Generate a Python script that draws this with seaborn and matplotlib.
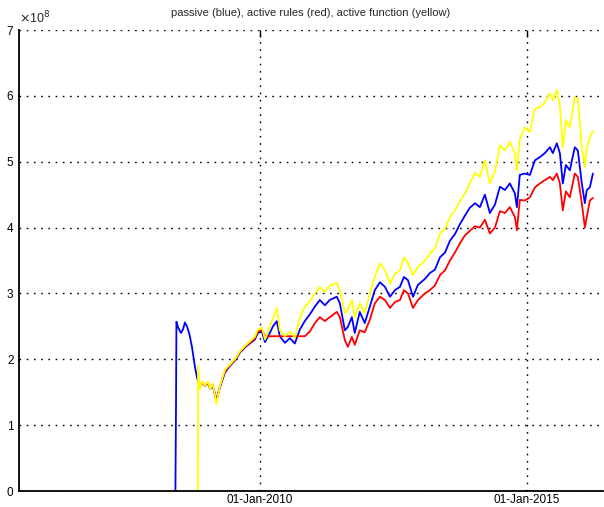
import matplotlib
matplotlib.use("Agg")
import matplotlib.pyplot as plt
import matplotlib.dates as mdates
import pandas as pd
import seaborn as sns

# sample dates
dates = [
    "2008-06-01", "2008-06-05", "2008-06-08", "2008-06-20", "2008-07-09", "2008-07-24",
    "2008-08-05", "2008-08-19", "2008-09-05", "2008-09-22", "2008-10-13", "2008-10-27",
    "2008-11-01", "2008-11-03", "2008-11-16", "2008-12-01", "2008-12-20", "2009-01-10",
    "2009-01-24", "2009-02-10", "2009-02-27", "2009-03-09", "2009-04-02", "2009-05-06",
    "2009-06-09", "2009-07-13", "2009-08-16", "2009-09-19", "2009-10-23", "2009-11-26",
    "2009-12-17",
    "2010-01-14", "2010-02-04", "2010-03-09", "2010-03-30", "2010-04-26", "2010-05-16",
    "2010-06-20", "2010-07-24", "2010-08-27", "2010-09-30", "2010-11-03", "2010-12-07",
    "2011-01-11", "2011-02-14", "2011-03-20", "2011-04-23", "2011-06-10", "2011-07-01",
    "2011-08-04", "2011-08-24", "2011-09-21", "2011-10-11", "2011-11-14", "2011-12-18",
    "2012-01-22", "2012-02-25", "2012-03-31", "2012-05-04", "2012-06-08", "2012-07-12",
    "2012-08-15", "2012-09-11", "2012-10-09", "2012-11-12", "2012-12-16",
    "2013-02-02", "2013-03-08", "2013-04-11", "2013-05-16", "2013-06-19", "2013-07-23",
    "2013-08-26", "2013-09-29", "2013-11-02", "2013-12-06",
    "2014-01-10", "2014-02-13", "2014-03-19", "2014-04-22", "2014-05-27", "2014-06-30",
    "2014-08-03", "2014-09-06", "2014-10-10", "2014-10-24", "2014-11-13", "2014-12-17",
    "2015-01-21", "2015-02-24", "2015-03-30", "2015-05-03", "2015-06-07", "2015-06-27",
    "2015-07-24", "2015-08-14", "2015-09-03", "2015-09-24", "2015-10-21", "2015-11-24",
    "2015-12-15",
    "2016-01-11", "2016-02-01", "2016-02-14", "2016-03-06", "2016-03-27",
]

# portfolio values in units of 1e8
passive = [
    0.00, 1.27, 2.57, 2.48, 2.40, 2.46, 2.56, 2.50, 2.38, 2.19, 1.88, 1.72,
    1.68, 1.66, 1.60, 1.64, 1.60, 1.64, 1.55, 1.60, 1.46, 1.38, 1.58, 1.80,
    1.90, 1.98, 2.10, 2.18, 2.24, 2.30, 2.40,
    2.42, 2.26, 2.40, 2.50, 2.58, 2.35, 2.25, 2.32, 2.24, 2.45, 2.58, 2.68,
    2.80, 2.90, 2.82, 2.90, 2.95, 2.85, 2.44, 2.49, 2.64, 2.40, 2.72, 2.55,
    2.80, 3.05, 3.17, 3.10, 2.95, 3.05, 3.10, 3.25, 3.20, 2.95, 3.13,
    3.22, 3.31, 3.36, 3.55, 3.62, 3.80, 3.90, 4.05, 4.18, 4.30,
    4.37, 4.31, 4.50, 4.22, 4.35, 4.62, 4.57, 4.67, 4.52, 4.31, 4.80, 4.82,
    4.80, 5.02, 5.07, 5.13, 5.22, 5.13, 5.28, 5.13, 4.67, 4.95, 4.87, 5.22, 5.17,
    4.67, 4.37, 4.57, 4.61, 4.82,
]

active_rules = [
    None, None, None, None, None, None, None, None, None, None, None, None,
    None, None, 1.58, 1.65, 1.60, 1.64, 1.56, 1.62, 1.47, 1.36, 1.59, 1.82,
    1.91, 1.99, 2.11, 2.19, 2.25, 2.32, 2.42,
    2.44, 2.35, 2.35, 2.35, 2.35, 2.35, 2.35, 2.35, 2.35, 2.35, 2.35, 2.42,
    2.55, 2.64, 2.58, 2.64, 2.72, 2.64, 2.29, 2.19, 2.34, 2.22, 2.44, 2.41,
    2.60, 2.85, 2.95, 2.90, 2.78, 2.87, 2.90, 3.05, 3.00, 2.78, 2.90,
    3.00, 3.05, 3.12, 3.28, 3.35, 3.50, 3.62, 3.76, 3.88, 3.95,
    4.02, 4.00, 4.12, 3.91, 4.00, 4.25, 4.22, 4.31, 4.16, 3.96, 4.42, 4.41,
    4.46, 4.61, 4.67, 4.72, 4.77, 4.72, 4.82, 4.67, 4.26, 4.55, 4.46, 4.82, 4.77,
    4.37, 4.00, 4.16, 4.41, 4.45,
]

active_function = [
    None, None, None, None, None, None, None, None, None, None, None, None,
    0.00, 1.90, 1.55, 1.66, 1.60, 1.66, 1.55, 1.63, 1.45, 1.32, 1.60, 1.84,
    1.92, 2.00, 2.12, 2.20, 2.27, 2.34, 2.45,
    2.48, 2.30, 2.50, 2.62, 2.78, 2.44, 2.35, 2.42, 2.33, 2.62, 2.80, 2.88,
    3.00, 3.10, 3.02, 3.12, 3.16, 3.05, 2.70, 2.75, 2.90, 2.64, 2.85, 2.70,
    3.00, 3.25, 3.46, 3.35, 3.15, 3.30, 3.35, 3.55, 3.46, 3.28, 3.40,
    3.50, 3.61, 3.68, 3.91, 3.98, 4.16, 4.26, 4.40, 4.52, 4.67,
    4.83, 4.77, 5.02, 4.67, 4.85, 5.25, 5.17, 5.30, 5.13, 4.87, 5.35, 5.52,
    5.45, 5.80, 5.83, 5.90, 6.04, 5.93, 6.09, 5.85, 5.22, 5.63, 5.52, 5.98, 5.95,
    5.22, 4.92, 5.20, 5.37, 5.47,
]

series_names = ["passive", "active rules", "active function"]
series_colors = ["#0000ff", "#ff0000", "#ffff00"]
xtick_dates = ["2010-01-01", "2015-01-01"]

df = pd.DataFrame({
    "date": pd.to_datetime(dates),
    "passive": passive,
    "active rules": active_rules,
    "active function": active_function,
})
long_df = df.melt(id_vars="date", var_name="strategy", value_name="value").dropna()

sns.set_style("white")
plt.rcParams["font.family"] = ["Liberation Sans", "DejaVu Sans"]

fig = plt.figure(figsize=(6.04, 5.07), dpi=100)
ax = fig.add_axes([19 / 604, 16 / 507, 584 / 604, 461 / 507])

sns.lineplot(data=long_df, x="date", y="value", hue="strategy",
             hue_order=series_names, palette=series_colors,
             estimator=None, linewidth=1.3, legend=False, ax=ax)

ax.set_xlim(pd.Timestamp("2005-06-27"), pd.Timestamp("2016-06-04"))
ax.set_ylim(0, 7)
ax.set_yticks(range(0, 8))
ax.set_xticks(pd.to_datetime(xtick_dates))
ax.xaxis.set_major_formatter(mdates.DateFormatter("%d-%b-%Y"))
ax.set_xlabel("")
ax.set_ylabel("")

ax.grid(True, color="black", linestyle=(0, (1.2, 4)), linewidth=1.0)
for side in ["top", "right"]:
    ax.spines[side].set_visible(False)
for side in ["left", "bottom"]:
    ax.spines[side].set_color("black")
    ax.spines[side].set_linewidth(1.3)
ax.tick_params(direction="in", length=5, width=1, colors="black",
               labelsize=8.5, top=True)
ax.tick_params(axis="x", pad=2)
ax.tick_params(axis="y", pad=4)

ax.set_title("passive (blue), active rules (red), active function (yellow)",
             fontsize=8, pad=10)
ax.text(0.0, 1.008, r"$\times$10$^{8}$", transform=ax.transAxes,
        ha="left", va="bottom", fontsize=9)

fig.savefig("out.png", dpi=100)
